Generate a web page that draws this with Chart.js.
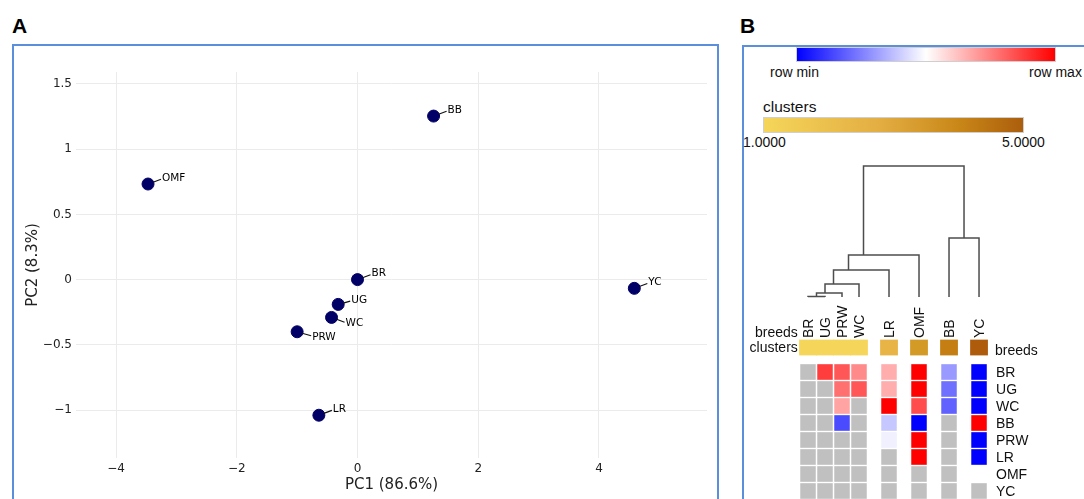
<!DOCTYPE html>
<html>
<head>
<meta charset="utf-8">
<script src="https://cdn.jsdelivr.net/npm/chart.js@4.4.1/dist/chart.umd.min.js"></script>
<style>
  body { margin: 0; width: 1084px; height: 499px; overflow: hidden; background: #fff; position: relative;
         font-family: 'Liberation Sans', Arial, sans-serif; }
  .panel { position: absolute; box-sizing: border-box; border: 2px solid #5b8fdb; }
  .tag { position: absolute; font-weight: bold; font-size: 21px; line-height: 21px; color: #000; }
  .lbl { position: absolute; font-size: 14px; line-height: 16px; color: #111; white-space: nowrap; }
  .gbar { position: absolute; box-sizing: border-box; border: 1px solid #cfcfcf; }
  canvas { position: absolute; }
</style>
</head>
<body>
<div class="tag" style="left:12px;top:15px">A</div>
<div class="tag" style="left:740px;top:15px">B</div>
<div class="panel" style="left:12px;top:44px;width:707px;height:480px"></div>
<div class="panel" style="left:742px;top:45px;width:400px;height:480px"></div>

<!-- legends of panel B -->
<div class="gbar" style="left:796px;top:47px;width:260px;height:15px;background:linear-gradient(to right,#0000ff,#ffffff 50%,#ff0000)"></div>
<div class="lbl" style="left:770px;top:64px">row min</div>
<div class="lbl" style="left:1029px;top:64px">row max</div>
<div class="lbl" style="left:763px;top:98px;font-size:15.5px;line-height:18px">clusters</div>
<div class="gbar" style="left:763px;top:117px;width:261px;height:16px;background:linear-gradient(to right,#f5d65a,#e3ad42 45%,#c98718 75%,#ab5e0c)"></div>
<div class="lbl" style="left:743px;top:134px">1.0000</div>
<div class="lbl" style="left:1002px;top:134px">5.0000</div>

<canvas id="pca" width="703" height="453" style="left:14px;top:46px"></canvas>
<canvas id="heat" width="340" height="349" style="left:744px;top:150px"></canvas>

<script>
// ---- panel A: PCA scores ----
const breeds = ['BR', 'UG', 'WC', 'BB', 'PRW', 'LR', 'OMF', 'YC'];
const pc1 = [0.0, -0.32, -0.43, 1.26, -1.0, -0.64, -3.47, 4.585];
const pc2 = [0.0, -0.19, -0.29, 1.254, -0.40, -1.04, 0.733, -0.067];
const xTicks = [-4, -2, 0, 2, 4];
const yTicks = [-1, -0.5, 0, 0.5, 1, 1.5];
const xTitle = 'PC1 (86.6%)';
const yTitle = 'PC2 (8.3%)';

// ---- panel B: heatmap + dendrogram ----
const columns = ['BR', 'UG', 'PRW', 'WC', 'LR', 'OMF', 'BB', 'YC'];
const colClusters = [1, 1, 1, 1, 2, 3, 4, 5];
const rows = ['BR', 'UG', 'WC', 'BB', 'PRW', 'LR', 'OMF', 'YC'];
// place of each cell between row min (0) and row max (1); null = no value (grey), '' = empty
const rowBR  = [null, 0.88, 0.83, 0.73, 0.66, 1, 0.30, 0];
const rowUG  = [null, null, 0.78, 0.83, 0.66, 1, 0.22, 0];
const rowWC  = [null, null, 0.68, null, 1, 0.85, 0.19, 0];
const rowBB  = [null, null, 0.145, null, 0.39, 0, null, 1];
const rowPRW = [null, null, null, null, 0.47, 1, null, 0];
const rowLR  = [null, null, null, null, null, 1, null, 0];
const rowOMF = [null, null, null, null, null, null, null, ''];
const rowYC  = [null, null, null, null, null, null, null, null];
// dendrogram merges: [node a, node b, height]; leaves are 0..7 in column order, new nodes from 8
const merges = [[0, 1, 0.004], [8, 2, 0.031], [9, 3, 0.099], [10, 4, 0.206],
                [11, 5, 0.321], [6, 7, 0.450], [12, 13, 1.0]];

const clusterColors = ['#f5d65a', '#e8b445', '#d49a26', '#c47e12', '#ae5c0c'];
const FONT = '"DejaVu Sans", Verdana, sans-serif';
const SANS = '"Liberation Sans", Arial, sans-serif';

function fmt(v) {
  return String(v).replace('-', '\u2212');
}

// label offsets that differ from the default up-right placement
const labelShift = { UG: [13, -4], WC: [14, 6], PRW: [15, 5] };

const pointLabels = {
  id: 'pointLabels',
  afterDatasetsDraw(chart) {
    const ctx = chart.ctx;
    const meta = chart.getDatasetMeta(0);
    ctx.save();
    ctx.font = '10.5px ' + FONT;
    ctx.fillStyle = '#000';
    ctx.strokeStyle = '#111';
    ctx.lineWidth = 1.2;
    ctx.textBaseline = 'middle';
    meta.data.forEach(function (pt, i) {
      const s = labelShift[breeds[i]] || [14, -6];
      ctx.beginPath();
      ctx.moveTo(pt.x + 5, pt.y + s[1] * 0.3);
      ctx.lineTo(pt.x + s[0] - 1, pt.y + s[1] * 0.8);
      ctx.stroke();
      ctx.fillText(breeds[i], pt.x + s[0], pt.y + s[1]);
    });
    ctx.restore();
  }
};

const tickFont = { family: FONT, size: 12 };
const titleFont = { family: FONT, size: 15 };

new Chart(document.getElementById('pca'), {
  type: 'scatter',
  data: {
    datasets: [{
      data: breeds.map((b, i) => ({ x: pc1[i], y: pc2[i] })),
      backgroundColor: '#000066',
      borderColor: '#000066',
      pointRadius: 6,
      pointHoverRadius: 6
    }]
  },
  options: {
    responsive: false,
    animation: false,
    devicePixelRatio: 1,
    events: [],
    layout: { padding: { top: 26, right: 10, left: 0, bottom: 0 } },
    plugins: { legend: { display: false }, tooltip: { enabled: false } },
    scales: {
      x: {
        type: 'linear', min: -4.663, max: 5.789,
        afterBuildTicks: s => { s.ticks = xTicks.map(v => ({ value: v })); },
        afterFit: s => { s.height = 41; },
        grid: { color: '#ebebeb', drawTicks: false },
        border: { display: false },
        ticks: { padding: 4, color: '#222', font: tickFont, callback: v => fmt(v) },
        title: { display: true, text: xTitle, color: '#222', font: titleFont, padding: { top: 0, bottom: 5 } }
      },
      y: {
        type: 'linear', min: -1.368, max: 1.592,
        afterBuildTicks: s => { s.ticks = yTicks.map(v => ({ value: v })); },
        afterFit: s => { s.width = 62; },
        grid: { color: '#ebebeb', drawTicks: false },
        border: { display: false },
        ticks: { padding: 4, color: '#222', font: tickFont, callback: v => fmt(v) },
        title: { display: true, text: yTitle, color: '#222', font: titleFont, padding: { top: 10, bottom: 0 } }
      }
    }
  },
  plugins: [pointLabels]
});

// ---- heatmap ----
const gap = 0.765;
const colX = colClusters.map((c, i) => i + gap * (c - 1));
const clusterRow = -1.44;

function heatColor(t) {
  if (t === '') return 'rgba(0,0,0,0)';
  if (t === null) return '#c0c0c0';
  let r, g, b;
  if (t < 0.5) { r = g = Math.round(510 * t); b = 255; }
  else { r = 255; g = b = Math.round(510 * (1 - t)); }
  return 'rgb(' + r + ',' + g + ',' + b + ')';
}

const rowValues = [rowBR, rowUG, rowWC, rowBB, rowPRW, rowLR, rowOMF, rowYC];
const cellSets = rowValues.map(function (vals, r) {
  return {
    type: 'bar', grouped: false, barThickness: 15.5, inflateAmount: 0,
    data: vals.map((v, i) => ({ x: colX[i], y: [r - 0.46, r + 0.46] })),
    backgroundColor: vals.map(heatColor)
  };
});

const clusterSet = {
  type: 'bar', grouped: false, barThickness: 17, inflateAmount: 0.4,
  data: colClusters.map((c, i) => ({ x: colX[i], y: [clusterRow - 0.44, clusterRow + 0.44] })),
  backgroundColor: colClusters.map(c => clusterColors[c - 1])
};

// dendrogram: each merge is a bracket, node sits between its outer leaves
const nodes = colX.map(x => ({ lo: x, hi: x, x: x, h: 0 }));
const dendroSets = merges.map(function (m) {
  const a = nodes[m[0]], b = nodes[m[1]], h = m[2];
  const lo = Math.min(a.lo, b.lo), hi = Math.max(a.hi, b.hi);
  nodes.push({ lo: lo, hi: hi, x: (lo + hi) / 2, h: h });
  return {
    type: 'line', yAxisID: 'yd',
    data: [{ x: a.x, y: a.h }, { x: a.x, y: h }, { x: b.x, y: h }, { x: b.x, y: b.h }],
    borderColor: '#4d4d4d', borderWidth: 1.5, pointRadius: 0, fill: false, tension: 0
  };
});

const heatLabels = {
  id: 'heatLabels',
  afterDraw(chart) {
    const ctx = chart.ctx, xs = chart.scales.x, ys = chart.scales.y;
    ctx.save();
    ctx.fillStyle = '#111';
    ctx.font = '14px ' + SANS;
    ctx.textBaseline = 'middle';
    columns.forEach(function (c, i) {
      ctx.save();
      ctx.translate(xs.getPixelForValue(colX[i]) + 1, ys.getPixelForValue(-2.0));
      ctx.rotate(-Math.PI / 2);
      ctx.textAlign = 'left';
      ctx.fillText(c, 0, 0);
      ctx.restore();
    });
    ctx.textAlign = 'left';
    const rx = xs.getPixelForValue(colX[colX.length - 1] + 1.0);
    rows.forEach(function (r, i) {
      ctx.fillText(r, rx, ys.getPixelForValue(i) + 1);
    });
    ctx.fillText('breeds', rx - 1, ys.getPixelForValue(clusterRow + 0.2));
    ctx.textAlign = 'right';
    const lx = xs.getPixelForValue(colX[0] - 0.6);
    ctx.fillText('breeds', lx, ys.getPixelForValue(-2.29));
    ctx.fillText('clusters', lx, ys.getPixelForValue(clusterRow) + 1);
    ctx.restore();
  }
};

new Chart(document.getElementById('heat'), {
  type: 'bar',
  data: { datasets: cellSets.concat([clusterSet], dendroSets) },
  options: {
    responsive: false,
    animation: false,
    devicePixelRatio: 1,
    events: [],
    layout: { padding: 0 },
    plugins: { legend: { display: false }, tooltip: { enabled: false } },
    scales: {
      x: { type: 'linear', display: false, offset: false, min: -3.765, max: 16.235 },
      y: { type: 'linear', display: false, reverse: true, min: -13.059, max: 7.471 },
      yd: { type: 'linear', display: false, min: -1.542, max: 1.122 }
    }
  },
  plugins: [heatLabels]
});
</script>
</body>
</html>
